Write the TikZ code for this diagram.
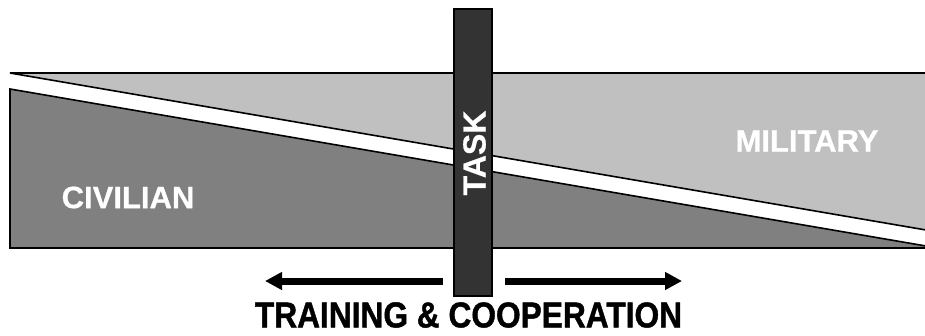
\documentclass[tikz,border=0pt]{standalone}
\usepackage{fontspec}
\setmainfont{Liberation Sans}
\newfontfamily\heavyfont[FakeBold=1.2]{Liberation Sans Bold}
\newfontfamily\semiheavyfont[FakeBold=0.6]{Liberation Sans Bold}
\usetikzlibrary{arrows.meta}
\definecolor{milgray}{HTML}{C0C0C0}
\definecolor{civgray}{HTML}{808080}
\definecolor{taskgray}{HTML}{333333}
\tikzset{
  edgeline/.style={draw=black, line width=1.6pt, line join=miter},
  whitelabel/.style={text=white, font=\semiheavyfont\fontsize{31}{31}\selectfont, inner sep=0pt},
  taskbar/.style={draw=black, line width=1.4pt, fill=taskgray, minimum width=38pt, minimum height=287pt, inner sep=0pt},
  bigarrow/.style={line width=7pt, -{Triangle[length=17pt,width=17pt]}},
}
\begin{document}
\begin{tikzpicture}[x=1pt,y=-1pt]
\useasboundingbox[fill=white] (0,0) rectangle (925,335);
% military (light) wedge
\fill[milgray] (10,73) -- (926,73) -- (926,230) -- cycle;
\draw[edgeline] (926,73) -- (10,73) -- (926,230);
% civilian (dark) wedge
\fill[civgray] (10,89) -- (926,246) -- (926,248) -- (10,248) -- cycle;
\draw[edgeline] (926,246) -- (10,89) -- (10,248) -- (926,248);
% labels
\node[whitelabel] (mil) at (807,141) {MILITARY};
\node[whitelabel] (civ) at (128,197.5) {CIVILIAN};
% task bar
\node[taskbar] (task) at (473,152.5) {};
\node[whitelabel, rotate=90, font=\semiheavyfont\fontsize{32}{32}\selectfont] (tasklbl) at (474.5,153) {TASK};
% arrows
\coordinate (la) at (443,281);
\coordinate (lt) at (265,281);
\coordinate (ra) at (505,281);
\coordinate (rt) at (682,281);
\draw[bigarrow] (la) -- (lt);
\draw[bigarrow] (ra) -- (rt);
% bottom caption
\node[inner sep=0pt, xscale=0.88, font=\heavyfont\fontsize{36}{36}\selectfont] (cap) at (468.5,315) {TRAINING \& COOPERATION};
\end{tikzpicture}
\end{document}
